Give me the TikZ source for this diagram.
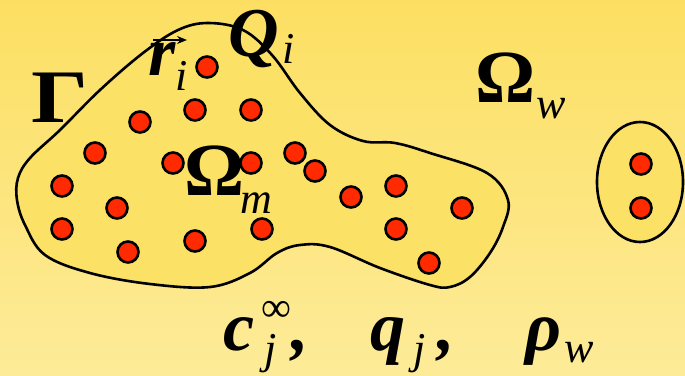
\documentclass[tikz,border=0pt]{standalone}
\usepackage{fontspec}
\setmainfont{Liberation Serif}
\usetikzlibrary{arrows.meta}
\definecolor{bgtop}{HTML}{FCDF62}
\definecolor{bgbot}{HTML}{FDEB98}
\definecolor{blobfill}{HTML}{FBE165}
\definecolor{dotred}{HTML}{FF2A00}
\tikzset{
  dot/.style={circle, fill=dotred, draw=black, line width=2.6pt, minimum size=21pt, inner sep=0pt},
  region/.style={draw=black, line width=2.6pt, fill=blobfill},
  lbl/.style={inner sep=0pt, anchor=base west, text=black},
  big/.style={lbl, font=\fontsize{70}{70}\selectfont\bfseries},
  omega/.style={lbl, font=\fontsize{75}{75}\selectfont\bfseries},
  bigbi/.style={lbl, font=\fontsize{70}{70}\selectfont\bfseries\itshape},
  sub/.style={lbl, font=\fontsize{44}{44}\selectfont\itshape},
}
\begin{document}
\begin{tikzpicture}[x=1pt,y=-1pt]
\useasboundingbox (0,0) rectangle (685,375);
\shade[top color=bgtop, bottom color=bgbot] (0,0) rectangle (685,375);
% domain boundary
\draw[region] plot[smooth cycle, tension=0.6] coordinates {
 (18,178) (30,158) (60,130) (100,90) (143,53) (178,30) (208,23) (243,30) (272,55)
 (300,93) (330,125) (363,141) (395,143) (430,153) (487,173) (508,200)
 (503,227) (490,253) (470,277) (450,287) (430,285) (380,268) (330,247)
 (300,245) (277,253) (250,273) (210,287) (150,284) (90,273) (45,255) (25,225) (17,200)};
\draw[region] (640,182) ellipse [x radius=43, y radius=60];
% particles
\foreach \n/\p in {1/{(207,67)},2/{(195,110)},3/{(251,110)},4/{(140,122)},5/{(95,153)},
  6/{(173,163)},7/{(251,163)},8/{(295,153)},9/{(315,171)},10/{(62,186)},11/{(117,208)},
  12/{(62,229)},13/{(128,252)},14/{(195,241)},15/{(262,229)},16/{(351,197)},17/{(396,186)},
  18/{(396,229)},19/{(462,208)},20/{(429,263)},21/{(641,164)},22/{(641,208)}}
  \node[dot] (d\n) at \p {};
% labels
\node[big, xscale=1.28, yscale=1.08] (gamma) at (31,122) {Γ};
\node[bigbi] (Q) at (228,56) {Q};
\node[sub] (Qi) at (282,63) {i};
\node[bigbi] (r) at (148,75) {r};
\node[sub] (ri) at (175,90) {i};
\coordinate (arrA) at (153,40);
\coordinate (arrB) at (187,40);
\draw[line width=1.6pt, -{Stealth[length=10pt,width=8pt]}] (arrA) -- (arrB);
\node[omega] (Ow) at (475,102) {Ω};
\node[sub] (w1) at (536,118) {w};
\node[omega] (Om) at (184,195) {Ω};
\node[sub] (m) at (240,213) {m};
\node[bigbi] (c) at (223,350) {c};
\node[sub, font=\fontsize{42}{42}\selectfont] (inf) at (261,321) {∞};
\node[sub] (cj) at (264,363) {j};
\node[bigbi] (comma1) at (291,350) {,};
\node[bigbi] (q) at (370,350) {q};
\node[sub] (qj) at (413,363) {j};
\node[bigbi] (comma2) at (437,350) {,};
\node[bigbi] (rho) at (525,350) {ρ};
\node[sub] (w2) at (564,362) {w};
\end{tikzpicture}
\end{document}
